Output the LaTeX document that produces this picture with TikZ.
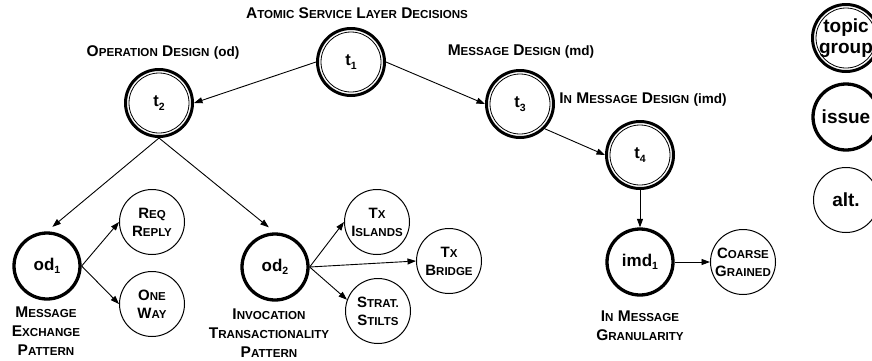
\documentclass[tikz,border=0pt]{standalone}
\usepackage{fontspec}
\setmainfont{Liberation Sans}
\usetikzlibrary{arrows.meta}

% faked small capitals: large initial, smaller upper-case rest
\newcommand\lblA{\fontsize{15.5}{19}\selectfont}
\newcommand\lblB{\fontsize{11.6}{19}\selectfont}
\newcommand\LS[2]{{\lblA #1}{\lblB #2}}
\newcommand\altA{\fontsize{15}{18}\selectfont}
\newcommand\altB{\fontsize{11.5}{18}\selectfont}
\newcommand\NS[2]{{\altA #1}{\altB #2}}
\newcommand\paren[1]{{\fontsize{13.5}{19}\selectfont #1}}
\newcommand\subi[1]{\raisebox{-0.4ex}{\fontsize{10.5}{10.5}\selectfont #1}}

\tikzset{
  topicnode/.style={circle, draw, line width=3pt, minimum size=67pt, inner sep=0pt,
    align=center, font=\bfseries\fontsize{16.5}{19}\selectfont,
    path picture={\draw[line width=0.8pt] (path picture bounding box.center) circle[radius=30pt];}},
  issuenode/.style={circle, draw, line width=3.3pt, minimum size=66pt, inner sep=0pt,
    align=center, font=\bfseries\fontsize{17}{19}\selectfont},
  altnode/.style={circle, draw, line width=1pt, minimum size=65pt, inner sep=0pt,
    align=center, font=\bfseries\fontsize{15}{18}\selectfont},
  lbl/.style={align=center, inner sep=0pt, font=\bfseries\fontsize{15.5}{19}\selectfont},
  legendtext/.style={font=\bfseries\fontsize{19}{21}\selectfont},
  arr/.style={line width=0.9pt, -{Triangle[length=8.5pt,width=6pt]}}
}

\begin{document}
\begin{tikzpicture}[x=1pt,y=-1pt]
\useasboundingbox (0,0) rectangle (872,360);
\clip (0,0) rectangle (872,360);

% topic groups
\node[topicnode] (t1) at (351,62)  {t\subi{1}};
\node[topicnode] (t2) at (159,103) {t\subi{2}};
\node[topicnode] (t3) at (520,104) {t\subi{3}};
\node[topicnode] (t4) at (640,155) {t\subi{4}};

% issues
\node[issuenode] (od1)  at (47,266)  {od\subi{1}};
\node[issuenode] (od2)  at (275,267) {od\subi{2}};
\node[issuenode] (imd1) at (640,262) {imd\subi{1}};

% alternatives
\node[altnode] (reqreply)    at (152,222) {\NS{R}{EQ}\\\NS{R}{EPLY}};
\node[altnode] (oneway)      at (152,304) {\NS{O}{NE}\\\NS{W}{AY}};
\node[altnode] (txislands)   at (377,222) {\NS{T}{X}\\\NS{I}{SLANDS}};
\node[altnode] (txbridge)    at (449,261) {\NS{T}{X}\\\NS{B}{RIDGE}};
\node[altnode] (stratstilts) at (378,311) {\NS{S}{TRAT.}\\\NS{S}{TILTS}};
\node[altnode] (coarse)      at (743,262) {\NS{C}{OARSE}\\\NS{G}{RAINED}};

% labels
\node[lbl] (lasl) at (357,13) {\LS{A}{TOMIC} \LS{S}{ERVICE} \LS{L}{AYER} \LS{D}{ECISIONS}};
\node[lbl] (lod)  at (163,52) {\LS{O}{PERATION} \LS{D}{ESIGN} \paren{(od)}};
\node[lbl] (lmd)  at (521,52) {\LS{M}{ESSAGE} \LS{D}{ESIGN} \paren{(md)}};
\node[lbl] (limd) at (643,100) {\LS{I}{N} \LS{M}{ESSAGE} \LS{D}{ESIGN} \paren{(imd)}};
\node[lbl] (lmep) at (46,331) {\LS{M}{ESSAGE}\\\LS{E}{XCHANGE}\\\LS{P}{ATTERN}};
\node[lbl] (litp) at (269,333) {\LS{I}{NVOCATION}\\\LS{T}{RANSACTIONALITY}\\\LS{P}{ATTERN}};
\node[lbl] (limg) at (640,326) {\LS{I}{N} \LS{M}{ESSAGE}\\\LS{G}{RANULARITY}};

% legend
\node[topicnode, legendtext] (lgtopic) at (846,38)  {topic\\group};
\node[issuenode, legendtext] (lgissue) at (846,117) {issue};
\node[altnode, legendtext]   (lgalt)   at (846,200) {alt.};

% connectors
\draw[arr] (t1.west) -- (t2.east);
\draw[arr] (t1.east) -- (t3.west);
\draw[arr] (t3.south east) -- (t4.west);
\draw[arr, shorten >=7pt] (t2.south) -- (od1.north);
\draw[arr, shorten >=8pt] (t2.south) -- (od2.north);
\draw[arr] (od1.east) -- (reqreply.west);
\draw[arr] (od1.east) -- (oneway.west);
\draw[arr] (od2.east) -- (txislands.west);
\draw[arr] (od2.east) -- (txbridge.west);
\draw[arr] (od2.east) -- (stratstilts.160);
\draw[arr] (t4.south) -- (imd1.north);
\draw[arr] (imd1.east) -- (coarse.west);
\end{tikzpicture}
\end{document}
